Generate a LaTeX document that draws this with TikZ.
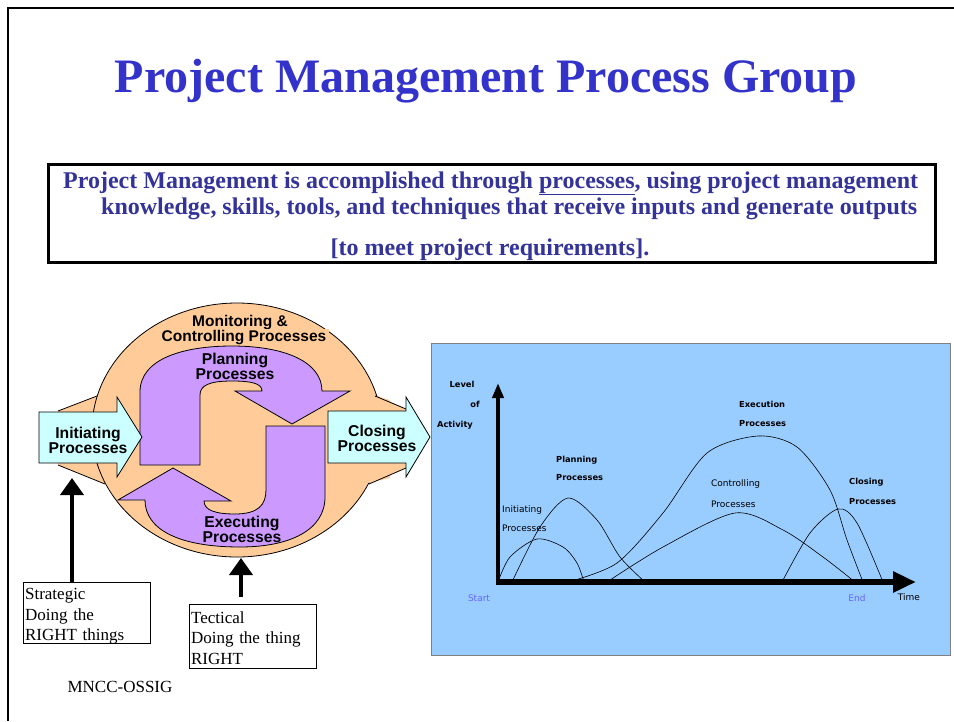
\documentclass[tikz,border=0pt]{standalone}
\usepackage{fontspec}
\setmainfont{Liberation Serif}
\newfontfamily\arialfont{Liberation Sans}
\newfontfamily\chartfont{DejaVu Sans}
\usetikzlibrary{arrows.meta}
\definecolor{titleblue}{RGB}{51,51,204}
\definecolor{boxblue}{RGB}{51,51,153}
\definecolor{peach}{RGB}{255,204,153}
\definecolor{lilac}{RGB}{204,153,255}
\definecolor{palecyan}{RGB}{204,255,255}
\definecolor{chartbg}{RGB}{153,204,255}
\definecolor{endblue}{RGB}{102,102,255}
\tikzstyle{grouplabel}=[font=\arialfont\bfseries\fontsize{15.7}{15}\selectfont,align=center,inner sep=0pt]
\tikzstyle{monlabel}=[font=\arialfont\bfseries\fontsize{15.5}{15.5}\selectfont,fill=peach,inner xsep=3pt,inner ysep=1.5pt,anchor=base]
\tikzstyle{noteline}=[font=\fontsize{24}{24}\selectfont\bfseries,text=boxblue,inner sep=0pt]
\tikzstyle{remark}=[draw,line width=1.2pt,anchor=north west,align=left,text width=124pt,inner xsep=1.5pt,inner ysep=0pt,font=\fontsize{17}{20.5}\selectfont]
\tikzstyle{bigarrow}=[line width=4pt,-{Triangle[width=23pt,length=17pt]}]
\tikzstyle{processarrow}=[draw,line width=0.8pt,fill=palecyan]
\tikzstyle{loop}=[draw,line width=0.8pt,fill=lilac]
\tikzstyle{chartlabel}=[font=\chartfont\fontsize{9}{9}\selectfont,inner sep=0pt]
\tikzstyle{charthead}=[font=\chartfont\bfseries\fontsize{8.3}{8.3}\selectfont,inner sep=0pt]
\tikzstyle{activity}=[line width=0.6pt]
\begin{document}
\begin{tikzpicture}[x=1pt,y=-1pt]
\useasboundingbox (0,0) rectangle (954,721);
\fill[white] (0,0) rectangle (954,721);
\draw[line width=2pt] (8,721) -- (8,8) -- (954,8);
\node[font=\fontsize{48}{48}\selectfont\bfseries,text=titleblue,anchor=base,inner sep=0pt] (title) at (486,92) {Project Management Process Group};
\draw[line width=3pt] (48,164) rectangle (935,262);
\node[noteline,anchor=base west] (line1) at (63,188) {\makebox[855pt][s]{Project Management is accomplished through \underline{processes}, using project management}};
\node[noteline,anchor=base west] (line2) at (101,214.5) {\makebox[816pt][s]{knowledge, skills, tools, and techniques that receive inputs and generate outputs}};
\node[noteline,anchor=base] (line3) at (490,255) {[to meet project requirements].};
\fill[peach] (58,411) -- (97,396) -- (112,394) -- (112,488) -- (105,484) -- (58,465) -- cycle;
\fill[peach] (372,393) -- (406,409) -- (406,468) -- (369,484) -- (355,437) -- cycle;
\draw[line width=0.8pt,fill=peach] (237,430) ellipse [x radius=145,y radius=127];
\fill[peach] (100,396) -- (112,396) -- (112,484) -- (106,484) -- cycle;
\fill[peach] (374,396) -- (390,400) -- (390,478) -- (368,483) -- cycle;
\draw[line width=0.8pt] (58,411) -- (97,396);
\draw[line width=0.8pt] (58,465) -- (105,484);
\draw[line width=0.8pt] (375,396) -- (406,409);
\draw[line width=0.8pt] (369,484) -- (406,468);
\node[monlabel] (mon1) at (240,326) {Monitoring \&};
\node[monlabel] (mon2) at (244,341.5) {Controlling Processes};
\draw[loop] (140,465) -- (140,392) .. controls (140,358) and (185,346) .. (232,346) .. controls (285,346) and (322,362) .. (322,391) -- (350,391) -- (292,424) -- (235,391) -- (262,391) .. controls (262,383) and (250,381) .. (232,381) .. controls (210,381) and (200,385) .. (200,395) -- (200,465) -- cycle;
\draw[loop] (266,426) -- (325,426) -- (325,497) .. controls (325,530) and (290,547) .. (240,547) .. controls (180,547) and (145,530) .. (145,500) -- (118,500) -- (173,468) -- (231,501) -- (204,501) .. controls (204,510) and (215,514) .. (235,514) .. controls (258,514) and (266,505) .. (266,490) -- cycle;
\draw[processarrow] (39,412) -- (117,412) -- (117,397) -- (142,437) -- (117,477) -- (117,463) -- (39,463) -- cycle;
\draw[processarrow] (328,411) -- (406,411) -- (406,397) -- (430,437) -- (406,477) -- (406,463) -- (328,463) -- cycle;
\node[grouplabel] (init) at (88,440.2) {Initiating\\Processes};
\node[grouplabel] (close) at (377,438.6) {Closing\\Processes};
\node[grouplabel] (plan) at (235,365.9) {Planning\\Processes};
\node[grouplabel] (exec) at (242,529.7) {Executing\\Processes};
\node[remark,text height=17pt,text depth=44pt] (strat) at (23,582) {Strategic\\Doing the\\RIGHT things};
\node[remark,text height=18.7pt,text depth=45.3pt] (tact) at (189,604) {Tectical\\Doing the thing\\RIGHT};
\coordinate (stratin) at (72,478);
\coordinate (tactin) at (241,558);
\draw[bigarrow] (strat.north -| stratin) -- (stratin);
\draw[bigarrow] ([yshift=7pt]tact.north -| tactin) -- (tactin);
\node[font=\fontsize{17}{17}\selectfont,anchor=base,inner sep=0pt] (footer) at (120,692) {MNCC-OSSIG};
\draw[draw=gray,fill=chartbg] (431,343) rectangle (950,655);
\draw[activity] plot[smooth] coordinates {(498,582) (510,557) (537,539) (563,547) (577,563) (584,582)};
\draw[activity] plot[smooth] coordinates {(512,582) (540,527) (568,498) (597,520) (620,557) (645,582)};
\draw[activity] plot[smooth] coordinates {(568,582) (617,563) (663,513) (707,453) (758,436) (797,447) (830,490) (847,540) (863,582)};
\draw[activity] plot[smooth] coordinates {(607,582) (663,547) (735,513) (783,530) (823,557) (855,582)};
\draw[activity] plot[smooth] coordinates {(782,582) (810,533) (838,509) (857,523) (883,582)};
\draw[line width=4pt,-{Triangle[width=11pt,length=15pt]}] (498,585) -- (498,383);
\draw[line width=6pt,-{Triangle[width=20pt,length=23pt]}] (496,582) -- (916,582);
\node[charthead] (level) at (462,384) {Level};
\node[charthead] (of) at (475,404) {of};
\node[charthead] (act) at (455,425) {Activity};
\node[charthead,anchor=west] (execa) at (739,404) {Execution};
\node[charthead,anchor=west] (execb) at (739,424) {Processes};
\node[charthead,anchor=west] (plana) at (556,460) {Planning};
\node[charthead,anchor=west] (planb) at (556,478) {Processes};
\node[chartlabel,anchor=west] (inita) at (502,510) {Initiating};
\node[chartlabel,anchor=west] (initb) at (502,528) {Processes};
\node[chartlabel,anchor=west] (ctrla) at (711,484) {Controlling};
\node[chartlabel,anchor=west] (ctrlb) at (711,504) {Processes};
\node[charthead,anchor=west] (closea) at (849,482) {Closing};
\node[charthead,anchor=west] (closeb) at (849,502) {Processes};
\node[chartlabel,text=endblue] (start) at (479,598) {Start};
\node[chartlabel,text=endblue] (end) at (857,598) {End};
\node[chartlabel] (time) at (909,597) {Time};
\end{tikzpicture}
\end{document}
